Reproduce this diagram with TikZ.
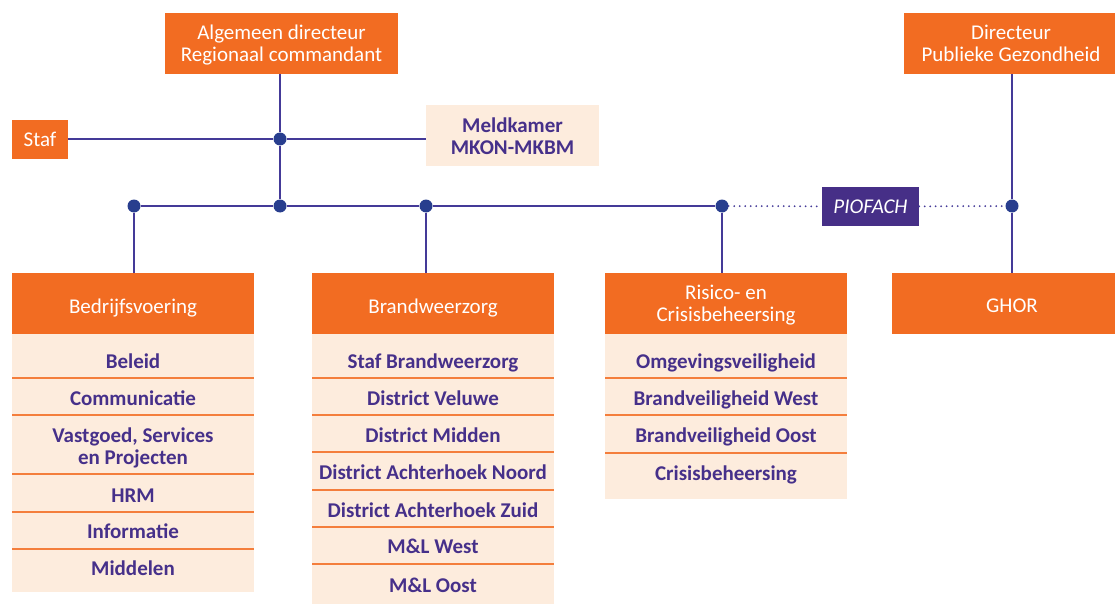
\documentclass[tikz,border=0pt]{standalone}
\usepackage{fontspec}
\setmainfont{Carlito}
\definecolor{orng}{HTML}{F26C22}
\definecolor{peach}{HTML}{FDECDD}
\definecolor{purp}{HTML}{46308A}
\definecolor{sepc}{HTML}{F47E3C}
\definecolor{lnc}{HTML}{443A98}
\definecolor{dotc}{HTML}{283E8E}
\definecolor{piof}{HTML}{462F87}
\newcommand{\bigtxt}{\fontsize{21}{22}\selectfont}
\begin{document}
\begin{tikzpicture}[x=1pt,y=-1pt,
  obox/.style={fill=orng, text=white, font=\bigtxt, align=center, inner sep=0pt, outer sep=0pt, text depth=0pt},
  pbox/.style={fill=peach, text=purp, font=\bigtxt\bfseries, align=center, inner sep=0pt, outer sep=0pt, text depth=0pt},
  item/.style={text=purp, font=\bigtxt\bfseries, anchor=base, inner sep=0pt, align=center},
  conn/.style={draw=lnc, line width=2pt},
  dotline/.style={draw=lnc, line width=2pt, dash pattern=on 0pt off 5.5pt, line cap=round},
  jdot/.style={circle, fill=dotc, inner sep=0pt, minimum size=13pt},
  sepline/.style={draw=sepc, line width=1.5pt}]
\useasboundingbox (0,0) rectangle (1115,604);
\clip (0,0) rectangle (1115,604);

% top boxes
\node[obox, minimum width=233pt, minimum height=61pt] (ad) at (281.5,43.5) {Algemeen directeur\\Regionaal commandant};
\node[obox, minimum width=56pt, minimum height=39pt, text height=15pt] (staf) at (40,139.5) {Staf};
\node[pbox, minimum width=173pt, minimum height=61pt] (meld) at (512.5,136) {Meldkamer\\MKON-MKBM};
\node[obox, minimum width=214pt, minimum height=61pt] (dpg) at (1011,43.5) {Directeur\\Publieke Gezondheid};
\node[fill=piof, text=white, font=\bigtxt\itshape, inner sep=0pt, minimum width=97pt, minimum height=39pt, text height=13pt, text depth=0pt] (pio) at (870.5,206.5) {PIOFACH};

% junctions
\node[jdot] (j1) at (280,139) {};
\node[jdot] (j2) at (280,206) {};
\node[jdot] (jb) at (134,206) {};
\node[jdot] (jw) at (426,206) {};
\node[jdot] (jr) at (722,206) {};
\node[jdot] (jg) at (1012,206) {};

% column headers
\node[obox, minimum width=242pt, minimum height=61pt, text height=19pt] (bedr) at (133,303.5) {Bedrijfsvoering};
\node[obox, minimum width=242pt, minimum height=61pt, text height=19pt] (brand) at (433,303.5) {Brandweerzorg};
\node[obox, minimum width=242pt, minimum height=61pt] (risk) at (726,303.5) {Risico- en\\Crisisbeheersing};
\node[obox, minimum width=240pt, minimum height=61pt, text height=17pt] (ghor) at (1012,303.5) {GHOR};

% connectors
\draw[conn] (ad.south -| j1) -- (j1);
\draw[conn] (j1) -- (j2);
\draw[conn] (staf.east |- j1) -- (j1);
\draw[conn] (j1) -- (j1 -| meld.west);
\draw[conn] (jb) -- (j2);
\draw[conn] (j2) -- (jw);
\draw[conn] (jw) -- (jr);
\draw[dotline] (jr) -- (pio);
\draw[dotline] (pio) -- (jg);
\draw[conn] (dpg.south -| jg) -- (jg);
\draw[conn] (jg) -- (jg |- ghor.north);
\draw[conn] (jb) -- (jb |- bedr.north);
\draw[conn] (jw) -- (jw |- brand.north);
\draw[conn] (jr) -- (jr |- risk.north);

% column bodies
\fill[peach] (12,334) rectangle (254,592);
\fill[peach] (312,334) rectangle (554,604);
\fill[peach] (605,334) rectangle (847,499);
\foreach \y in {378,415,474,512,549} \draw[sepline] (12,\y) -- (254,\y);
\foreach \y in {378,415,452,490,527,564} \draw[sepline] (312,\y) -- (554,\y);
\foreach \y in {378,415,453} \draw[sepline] (605,\y) -- (847,\y);

% Bedrijfsvoering items
\node[item] (b1) at (133,368) {Beleid};
\node[item] (b2) at (133,405) {Communicatie};
\node[item, anchor=center] (b3) at (133,448) {Vastgoed, Services\\en Projecten};
\node[item] (b4) at (133,502) {HRM};
\node[item] (b5) at (133,538) {Informatie};
\node[item] (b6) at (133,575) {Middelen};

% Brandweerzorg items
\node[item] (w1) at (433,368) {Staf Brandweerzorg};
\node[item] (w2) at (433,405) {District Veluwe};
\node[item] (w3) at (433,442) {District Midden};
\node[item] (w4) at (433,479) {District Achterhoek Noord};
\node[item] (w5) at (433,517) {District Achterhoek Zuid};
\node[item] (w6) at (433,553) {M\&L West};
\node[item] (w7) at (433,592) {M\&L Oost};

% Risico items
\node[item] (r1) at (726,368) {Omgevingsveiligheid};
\node[item] (r2) at (726,405) {Brandveiligheid West};
\node[item] (r3) at (726,442) {Brandveiligheid Oost};
\node[item] (r4) at (726,480) {Crisisbeheersing};
\end{tikzpicture}
\end{document}
